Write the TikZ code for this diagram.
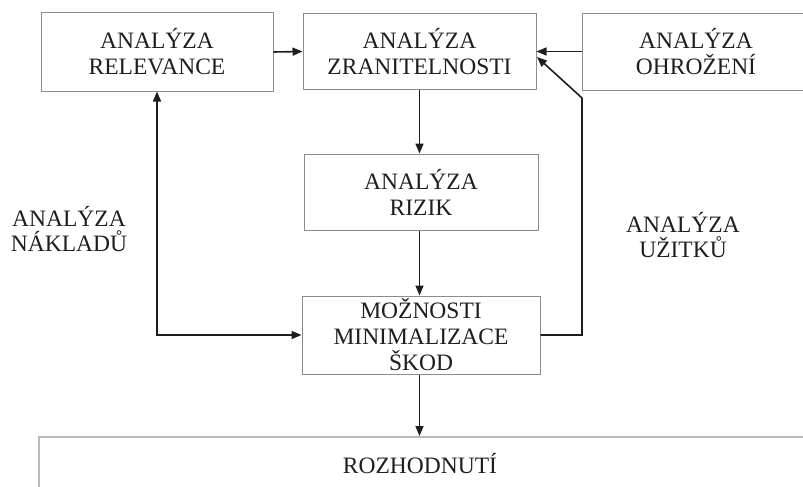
\documentclass[tikz,border=0pt]{standalone}
\usepackage{fontspec}
\setmainfont{Liberation Serif}
\usetikzlibrary{arrows.meta}
\definecolor{boxgray}{HTML}{8C8C8C}
\definecolor{ink}{HTML}{1E1E1E}
\begin{document}
\begin{tikzpicture}[x=1pt,y=-1pt,
  box/.style={draw=boxgray,line width=1pt,inner sep=0pt,align=center,text=ink,
    font=\fontsize{23.5}{26}\selectfont},
  lbl/.style={inner sep=0pt,align=center,text=ink,font=\fontsize{23.5}{25}\selectfont},
  arr/.style={draw=ink,line width=1.6pt,-{Triangle[length=10pt,width=8pt]}},
  arrboth/.style={draw=ink,line width=1.6pt,{Triangle[length=10pt,width=8pt]}-{Triangle[length=10pt,width=8pt]}},
  ln/.style={draw=ink,line width=1.6pt}]
\useasboundingbox (0,0) rectangle (803,487);
\clip (0,0) rectangle (803,487);
\node[box,minimum width=232pt,minimum height=78pt] (rel) at (157,52) {ANALÝZA\\RELEVANCE};
\node[box,minimum width=233pt,minimum height=75pt] (zran) at (419.5,51.5) {ANALÝZA\\ZRANITELNOSTI};
\node[box,minimum width=240pt,minimum height=77pt,anchor=north west] (ohrbox) at (582,13) {};
\node[lbl,font=\fontsize{23.5}{26}\selectfont] (ohr) at (696,52) {ANALÝZA\\OHROŽENÍ};
\node[box,minimum width=234pt,minimum height=76pt] (riz) at (421,192) {ANALÝZA\\RIZIK};
\node[box,minimum width=238pt,minimum height=78pt] (moz) at (421,335) {MOŽNOSTI\\MINIMALIZACE\\ŠKOD};
\node[box,draw=boxgray!60,line width=1.5pt,minimum width=800pt,minimum height=80pt,anchor=north west] (rozbox) at (38,436) {};
\node[lbl] (roz) at (420,464) {ROZHODNUTÍ};
\node[lbl] (nakl) at (69,229) {ANALÝZA\\NÁKLADŮ};
\node[lbl] (uzit) at (683,235) {ANALÝZA\\UŽITKŮ};
\coordinate (k) at (582,98);
\coordinate (ktip) at (537,57);
% connectors
\draw[arr] (rel.east) -- (zran.west);
\draw[arr] (ohrbox.west |- zran.east) -- (zran.east);
\draw[arr] (moz.east) -| (k) -- (ktip);
\draw[arrboth] (rel.south) |- (moz.west);
\draw[arr] (zran.south) -- (zran.south |- riz.north);
\draw[arr] (zran.south |- riz.south) -- (zran.south |- moz.north);
\draw[arr] (zran.south |- moz.south) -- (zran.south |- rozbox.north);
\end{tikzpicture}
\end{document}
